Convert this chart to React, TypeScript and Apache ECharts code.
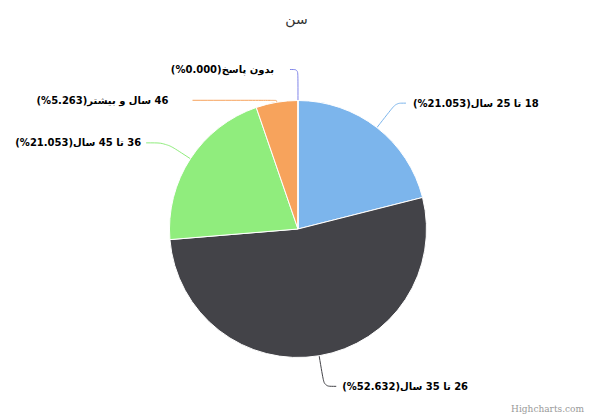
import React, { useEffect, useRef } from "react";
import * as echarts from "echarts";

const titleText = "سن";
const categories = ["18 تا 25 سال", "26 تا 35 سال", "36 تا 45 سال", "46 سال و بیشتر", "بدون پاسخ"];
const counts = [4, 10, 4, 1, 0];
const sliceColors = ["#7cb5ec", "#434348", "#90ed7d", "#f7a35c", "#8085e9"];
const lineLengths = [31, 31, 29, 2, 31];
const lineLengths2 = [10, 12, 20, 84, 8];
const labelGaps = [7, 6, 5, 24, 16];

export default function App() {
  const ref = useRef<HTMLDivElement>(null);
  useEffect(() => {
    if (!ref.current) return;
    const chart = echarts.init(ref.current, undefined, { renderer: "svg" });
    const total = counts.reduce((a, b) => a + b, 0);
    const data = categories.map((name, i) => ({
      name,
      value: counts[i],
      itemStyle: { color: sliceColors[i] },
      label: { distanceToLabelLine: labelGaps[i] },
      labelLine: { length: lineLengths[i], length2: lineLengths2[i] },
    }));
    chart.setOption({
      animation: false,
      backgroundColor: "#ffffff",
      title: {
        text: titleText,
        left: "center",
        top: 7,
        textStyle: { fontFamily: "DejaVu Sans", fontSize: 14, fontWeight: "normal", color: "#333333" },
      },
      graphic: [
        {
          type: "text",
          right: 9,
          bottom: 3,
          style: { text: "Highcharts.com", fontFamily: "DejaVu Serif", fontSize: 9, fill: "#999999" },
        },
      ],
      series: [
        {
          type: "pie",
          center: ["50.25%", "55.05%"],
          radius: 128.5,
          startAngle: 90,
          clockwise: true,
          avoidLabelOverlap: false,
          data,
          itemStyle: { borderColor: "#ffffff", borderWidth: 1 },
          label: {
            show: true,
            position: "outside",
            fontFamily: "DejaVu Sans",
            fontSize: 10,
            fontWeight: "bold",
            color: "#000000",
            formatter: (p: any) =>
              "\u202B" + p.name + "(" + ((counts[p.dataIndex] / total) * 100).toFixed(3) + "%)\u202C",
          },
          labelLine: { show: true, smooth: 0.3, lineStyle: { width: 1 } },
          emphasis: { disabled: true },
        },
      ],
    });
    return () => chart.dispose();
  }, []);
  return <div ref={ref} style={{ width: 593, height: 416, position: "absolute", left: 0, top: 0 }} />;
}
